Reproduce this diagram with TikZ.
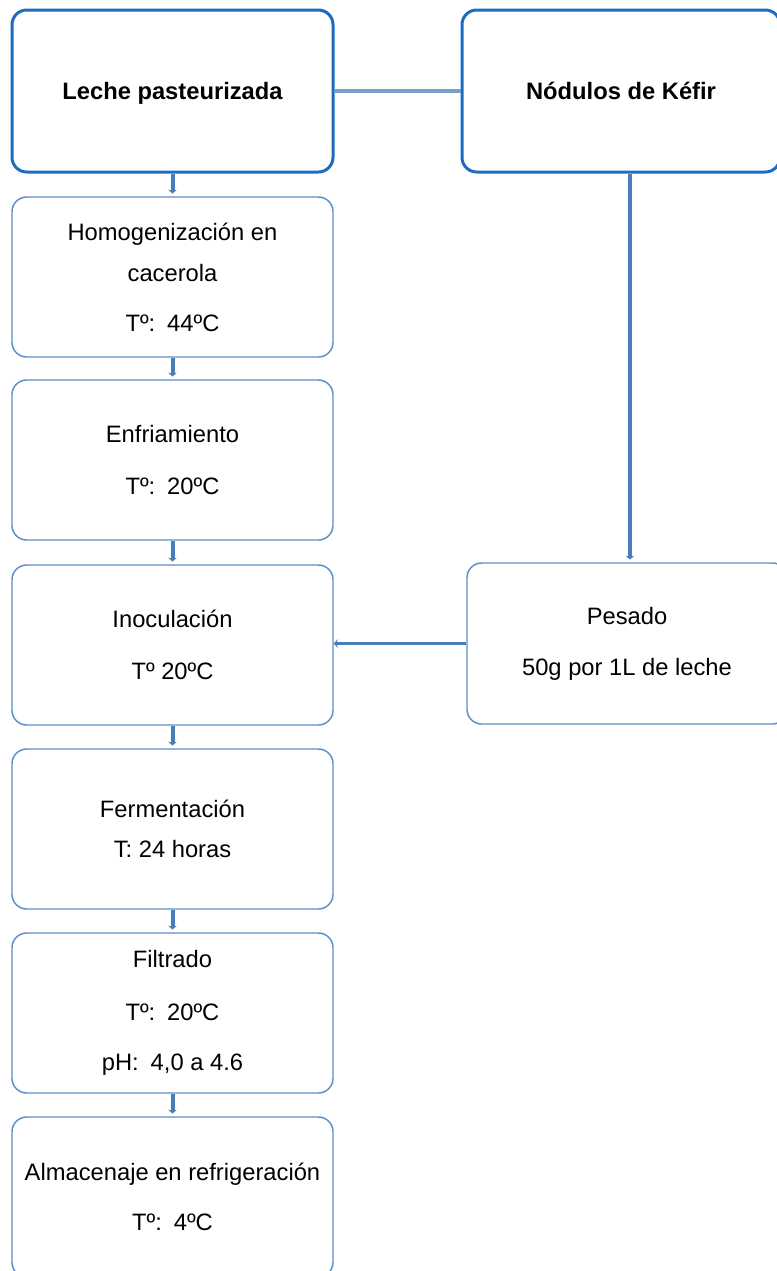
\documentclass[tikz,border=0pt]{standalone}
\usepackage{fontspec}
\setmainfont{Liberation Sans}
\usepackage{tikz}
\usetikzlibrary{arrows.meta}
\definecolor{azulfuerte}{HTML}{1C6DC1}
\definecolor{azulsuave}{HTML}{5B8FCB}
\definecolor{azulflecha}{HTML}{4A7EBB}
\definecolor{azulgris}{HTML}{7B9FCB}
\tikzstyle{mainbox} = [draw=azulfuerte, line width=2.25pt, rounded corners=11pt, minimum width=240.75pt, minimum height=121.5pt, inner sep=0pt, text depth=0pt, font=\fontsize{17.8}{21}\selectfont\bfseries]
\tikzstyle{stepbox} = [draw=azulsuave, line width=1.1pt, rounded corners=11pt, minimum width=240.75pt, minimum height=120pt, inner sep=0pt, align=center, font=\fontsize{17.8}{21}\selectfont]
\tikzstyle{flecha} = [line width=3pt, azulflecha, -{Stealth[length=3pt,width=6.5pt]}, shorten >=2pt]

\begin{document}
\begin{tikzpicture}[x=0.75pt,y=-0.75pt]
			\useasboundingbox (0,0) rectangle (777,1271);
			\node[mainbox] (leche) at (172.5,91) {Leche pasteurizada};
			\node[mainbox, minimum width=238.5pt] (kefir) at (621,91) {Nódulos de Kéfir};
			\node[stepbox] (homog) at (172.5,277) {Homogenización en\\[9.75pt]cacerola\\[16.5pt]Tº:\enspace 44ºC};
			\node[stepbox] (enfr) at (172.5,460) {Enfriamiento\\[18pt]Tº:\enspace 20ºC};
			\node[stepbox] (inoc) at (172.5,645) {Inoculación\\[18pt]Tº 20ºC};
			\node[stepbox] (ferm) at (172.5,829) {Fermentación\\[9pt]T: 24 horas};
			\node[stepbox] (filt) at (172.5,1013) {Filtrado\\[18.5pt]Tº:\enspace 20ºC\\[16.5pt]pH:\enspace 4,0 a 4.6};
			\node[stepbox] (alm) at (172.5,1197) {Almacenaje en refrigeración\\[16.5pt]Tº:\enspace 4ºC};
			\node[stepbox, minimum width=240pt, minimum height=120.75pt] (pesado) at (627,643.5) {Pesado\\[17.25pt]50g por 1L de leche};
			\draw[line width=2.5pt,azulgris] (leche.east)--(kefir.west);
			\draw[flecha] (leche.south)--(homog.north);
			\draw[flecha] (homog.south)--(enfr.north);
			\draw[flecha] (enfr.south)--(inoc.north);
			\draw[flecha] (inoc.south)--(ferm.north);
			\draw[flecha] (ferm.south)--(filt.north);
			\draw[flecha] (filt.south)--(alm.north);
			\draw[flecha] ([xshift=6.75pt]kefir.south)--([xshift=6.75pt]kefir.south |- pesado.north);
			\draw[flecha,line width=2.6pt,shorten >=0pt] (pesado.west)--(pesado.west -| inoc.east);
		\end{tikzpicture}
\end{document}
